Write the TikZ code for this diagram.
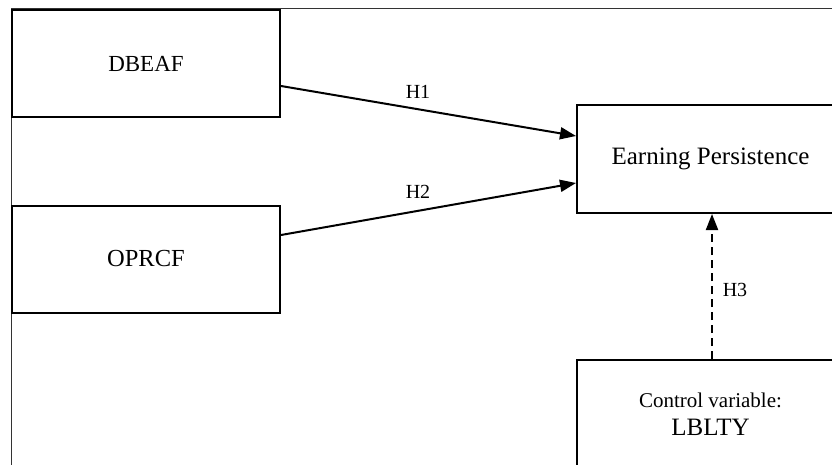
\documentclass[tikz,border=0pt]{standalone}
\usepackage{fontspec}
\setmainfont{Liberation Serif}
\usetikzlibrary{arrows.meta}
\tikzset{
  box/.style={draw=black, line width=2pt, fill=white, minimum width=268pt, minimum height=107pt, inner sep=0pt, align=center},
  frameline/.style={draw=black!80, line width=1.1pt},
  conn/.style={draw=black, line width=2pt, -{Triangle[length=16pt,width=12pt]}},
  lbl/.style={inner sep=0pt, font=\fontsize{20}{24}\selectfont}
}
\begin{document}
\begin{tikzpicture}[x=1pt, y=-1pt]
\useasboundingbox (0,0) rectangle (832,465);
\clip (0,0) rectangle (832,465);
\draw[frameline] (11.5,470) -- (11.5,8.5) -- (840,8.5);
\node[box, font=\fontsize{23}{27}\selectfont] (dbeaf) at (146,63.5) {DBEAF};
\node[box, font=\fontsize{24.5}{28}\selectfont] (oprcf) at (146,259) {OPRCF};
\node[box, minimum width=267pt, minimum height=108pt, font=\fontsize{25}{29}\selectfont] (ep) at (710.5,159) {Earning Persistence};
\node[box, minimum width=267pt, minimum height=108pt, font=\fontsize{21}{28}\selectfont] (ctrl) at (710.5,414) {Control variable:\\\fontsize{25}{28}\selectfont LBLTY};
\draw[conn] ([yshift=-22.5pt]dbeaf.east) -- ([yshift=23pt]ep.west);
\draw[conn] ([yshift=24pt]oprcf.east) -- ([yshift=-24pt]ep.west);
\draw[conn, dash pattern=on 8pt off 5pt] ([xshift=1.5pt]ctrl.north) -- ([xshift=1.5pt]ep.south);
\node[lbl] (h1) at (418,92) {H1};
\node[lbl] (h2) at (418,192) {H2};
\node[lbl] (h3) at (735,290) {H3};
\end{tikzpicture}
\end{document}
